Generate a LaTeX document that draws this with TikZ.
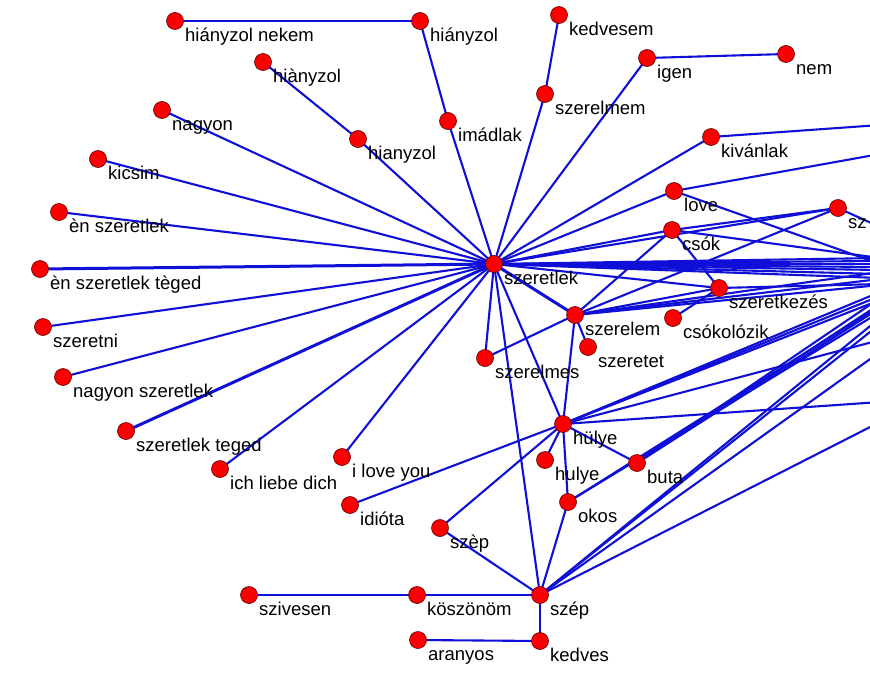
\documentclass[tikz,border=0pt]{standalone}
\usepackage{fontspec}
\setmainfont{Liberation Sans}
\usetikzlibrary{backgrounds}
\definecolor{edgeblue}{RGB}{15,15,215}
\definecolor{vred}{RGB}{250,0,0}
\definecolor{vline}{RGB}{90,0,0}
\newcommand\vtx[4]{%
  \node[vert] (#1) at (#2,#3) {};
  \node[lab] (#1-l) at ([xshift=10pt,yshift=-20pt]#1.center) {#4};}
\begin{document}
\begin{tikzpicture}[x=1pt,y=-1pt,
  vert/.style={circle,fill=vred,draw=vline,line width=0.6pt,minimum size=17pt,inner sep=0pt},
  lab/.style={anchor=base west,inner sep=0pt,font=\fontsize{18.5}{20}\selectfont},
  edge/.style={draw=edgeblue,line width=2.1pt},
  edgeB/.style={draw=edgeblue,line width=3pt}]
\useasboundingbox (0,0) rectangle (870,680);
% vertices
\vtx{hnek}{175}{21}{hiányzol nekem}
\vtx{hA}{420}{21}{hiányzol}
\vtx{hB}{263}{62}{hiànyzol}
\vtx{nagyon}{162}{110}{nagyon}
\vtx{hC}{358}{139}{hianyzol}
\vtx{imadlak}{448}{121}{imádlak}
\vtx{kedvesem}{559}{15}{kedvesem}
\vtx{szerelmem}{545}{94}{szerelmem}
\vtx{igen}{647}{58}{igen}
\vtx{nem}{786}{54}{nem}
\vtx{kivanlak}{711}{137}{kivánlak}
\vtx{kicsim}{98}{159}{kicsim}
\vtx{ensz}{59}{212}{èn szeretlek}
\vtx{ensztg}{40}{269}{èn szeretlek tèged}
\vtx{szeretni}{43}{327}{szeretni}
\vtx{nagysz}{63}{377}{nagyon szeretlek}
\vtx{sztg}{126}{431}{szeretlek teged}
\vtx{ich}{220}{469}{ich liebe dich}
\vtx{ilove}{342}{457}{i love you}
\vtx{idiota}{350}{505}{idióta}
\vtx{szepB}{440}{528}{szèp}
\vtx{szeretlek}{494}{264}{szeretlek}
\vtx{szerelem}{575}{315}{szerelem}
\vtx{szeretet}{588}{347}{szeretet}
\vtx{szerelmes}{485}{358}{szerelmes}
\vtx{love}{674}{191}{love}
\vtx{csok}{672}{230}{csók}
\vtx{szs}{838}{208}{sz}
\vtx{szkez}{719}{288}{szeretkezés}
\vtx{csokol}{673}{318}{csókolózik}
\vtx{hulye}{563}{424}{hülye}
\vtx{hulyeB}{545}{460}{hulye}
\vtx{buta}{637}{463}{buta}
\vtx{okos}{568}{502}{okos}
\vtx{szep}{540}{595}{szép}
\vtx{koszonom}{417}{595}{köszönöm}
\vtx{szivesen}{249}{595}{szivesen}
\vtx{aranyos}{418}{640}{aranyos}
\vtx{kedves}{540}{641}{kedves}
% off-picture ends
\coordinate (e1) at (880,125);
\coordinate (e2) at (880,154);
\coordinate (e3) at (880,227);
\coordinate (e4) at (880,258);
\coordinate (e5) at (880,264);
\coordinate (b1) at (880,258);
\coordinate (b2) at (880,261);
\coordinate (b3) at (880,264);
\coordinate (b4) at (880,267);
\coordinate (b5) at (880,270);
\coordinate (b6) at (880,274);
\coordinate (b7) at (880,278);
\coordinate (s1) at (880,272);
\coordinate (s2) at (880,279);
\coordinate (s3) at (880,285);
\coordinate (k1) at (880,284);
\coordinate (h1) at (880,292);
\coordinate (h2) at (880,296);
\coordinate (h3) at (880,300);
\coordinate (h4) at (880,340);
\coordinate (h5) at (880,402);
\coordinate (t1) at (880,298);
\coordinate (t2) at (880,304);
\coordinate (t3) at (880,308);
\coordinate (o1) at (880,306);
\coordinate (o2) at (880,312);
\coordinate (p1) at (880,318);
\coordinate (p2) at (880,324);
\coordinate (p3) at (880,352);
\coordinate (p4) at (880,422);
\begin{pgfonlayer}{background}
\fill[white] (0,0) rectangle (870,680);
\clip (0,0) rectangle (870,680);
\foreach \a/\b in {hnek/hA,hA/imadlak,imadlak/szeretlek,hB/hC,hC/szeretlek,
  nagyon/szeretlek,kicsim/szeretlek,ensz/szeretlek,szeretni/szeretlek,
  nagysz/szeretlek,ich/szeretlek,ilove/szeretlek,kedvesem/szerelmem,
  szerelmem/szeretlek,igen/szeretlek,igen/nem,kivanlak/szeretlek,
  love/szeretlek,csok/szeretlek,csok/szs,csok/szkez,csok/szerelem,
  szs/szerelem,szs/szeretlek,szeretlek/szerelmes,szeretlek/szep,
  szeretlek/hulye,szeretlek/szkez,szerelem/szerelmes,szerelem/szeretet,
  szerelem/hulye,szerelem/szkez,csokol/szkez,buta/hulye,hulye/hulyeB,
  hulye/okos,idiota/hulye,szepB/hulye,szepB/szep,okos/szep,
  szep/koszonom,koszonom/szivesen,szep/kedves,kedves/aranyos}
  {\draw[edge] (\a.center) -- (\b.center);}
\foreach \a/\b in {ensztg/szeretlek,sztg/szeretlek,szeretlek/szerelem}
  {\draw[edgeB] (\a.center) -- (\b.center);}
\foreach \a/\b in {kivanlak/e1,love/e2,szs/e3,csok/e4,love/e5,
  szeretlek/b1,szeretlek/b2,szeretlek/b3,szeretlek/b4,szeretlek/b5,szeretlek/b6,szeretlek/b7,
  szerelem/s1,szerelem/s2,szerelem/s3,szkez/k1,
  hulye/h1,hulye/h2,hulye/h3,hulye/h4,hulye/h5,
  buta/t1,buta/t2,buta/t3,okos/o1,okos/o2,
  szep/p1,szep/p2,szep/p3,szep/p4}
  {\draw[edge] (\a.center) -- (\b);}
\end{pgfonlayer}
\end{tikzpicture}
\end{document}
